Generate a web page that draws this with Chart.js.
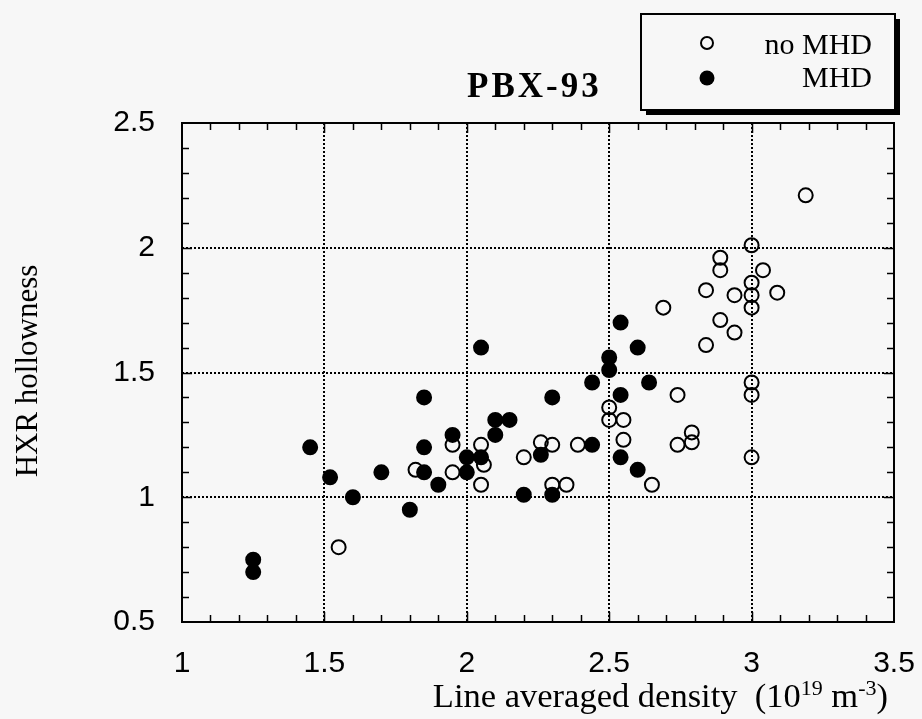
<!DOCTYPE html>
<html>
<head>
<meta charset="utf-8">
<script src="https://cdn.jsdelivr.net/npm/chart.js@4.4.0/dist/chart.umd.min.js"></script>
<style>
html, body { margin: 0; padding: 0; background: #f7f7f7; }
</style>
</head>
<body>
<canvas id="chart" width="922" height="719"></canvas>
<script>
// values
const noMhdX = [1.55, 1.82, 1.95, 1.95, 2.05, 2.06, 2.05, 2.20, 2.26, 2.30, 2.30, 2.35, 2.39, 2.50, 2.50, 2.55, 2.55, 2.65, 2.69, 2.74,
                2.74, 2.79, 2.79, 2.84, 2.84, 2.89, 2.89, 2.89, 2.94, 2.94, 3.00, 3.00, 3.00, 3.00, 3.00, 3.00, 3.00, 3.04, 3.09, 3.19];
const noMhdY = [0.80, 1.11, 1.21, 1.10, 1.21, 1.13, 1.05, 1.16, 1.22, 1.21, 1.05, 1.05, 1.21, 1.36, 1.31, 1.31, 1.23, 1.05, 1.76, 1.41,
                1.21, 1.26, 1.22, 1.83, 1.61, 1.96, 1.91, 1.71, 1.81, 1.66, 2.01, 1.86, 1.81, 1.76, 1.46, 1.41, 1.16, 1.91, 1.82, 2.21];
const mhdX = [1.25, 1.25, 1.45, 1.52, 1.60, 1.70, 1.80, 1.85, 1.85, 1.85, 1.90, 1.95, 2.00, 2.00, 2.05, 2.05, 2.10, 2.15, 2.10, 2.20,
              2.26, 2.30, 2.30, 2.44, 2.44, 2.50, 2.50, 2.54, 2.54, 2.54, 2.60, 2.60, 2.64];
const mhdY = [0.70, 0.75, 1.20, 1.08, 1.00, 1.10, 0.95, 1.40, 1.20, 1.10, 1.05, 1.25, 1.16, 1.10, 1.16, 1.60, 1.31, 1.31, 1.25, 1.01,
              1.17, 1.40, 1.01, 1.46, 1.21, 1.56, 1.51, 1.70, 1.41, 1.16, 1.60, 1.11, 1.46];

const xTicks = [1, 1.5, 2, 2.5, 3, 3.5];
const yTicks = [0.5, 1, 1.5, 2, 2.5];
const seriesLabels = ['no MHD', 'MHD'];
const chartTitle = 'PBX-93';
const yTitle = 'HXR hollowness';
const xTitle = ['Line averaged density  (10', '19', ' m', '-3', ')'];

const toPoints = (xs, ys) => xs.map((x, i) => ({x: x, y: ys[i]}));

const SERIF = '"Liberation Serif", "Times New Roman", serif';
const SANS = '"Liberation Sans", Arial, sans-serif';

const decor = {
    id: 'decor',
    beforeDraw(chart) {
        const ctx = chart.ctx;
        ctx.save();
        ctx.fillStyle = '#f7f7f7';
        ctx.fillRect(0, 0, chart.width, chart.height);
        ctx.restore();
    },
    beforeDatasetsDraw(chart) {
        const ctx = chart.ctx;
        const a = chart.chartArea;
        const xs = chart.scales.x, ys = chart.scales.y;
        ctx.save();
        ctx.strokeStyle = '#000';
        ctx.lineWidth = 2;
        ctx.setLineDash([2, 2]);
        xTicks.slice(1, -1).forEach(v => {
            const px = Math.round(xs.getPixelForValue(v));
            ctx.beginPath();
            ctx.moveTo(px, a.top);
            ctx.lineTo(px, a.bottom);
            ctx.stroke();
        });
        yTicks.slice(1, -1).forEach(v => {
            const py = Math.round(ys.getPixelForValue(v));
            ctx.beginPath();
            ctx.moveTo(a.left, py);
            ctx.lineTo(a.right, py);
            ctx.stroke();
        });
        ctx.restore();
    },
    afterDatasetsDraw(chart) {
        const ctx = chart.ctx;
        const a = chart.chartArea;
        const xs = chart.scales.x, ys = chart.scales.y;
        ctx.save();
        ctx.strokeStyle = '#000';
        ctx.lineWidth = 2;
        ctx.strokeRect(a.left, a.top, a.right - a.left, a.bottom - a.top);

        // inward ticks, minor every 0.1
        ctx.lineWidth = 1.5;
        const nx = Math.round((xs.max - xs.min) / 0.1);
        for (let i = 1; i < nx; i++) {
            const px = Math.round(xs.getPixelForValue(xs.min + i * 0.1)) + 0.5;
            const len = i % 5 === 0 ? 10 : 7;
            ctx.beginPath();
            ctx.moveTo(px, a.bottom); ctx.lineTo(px, a.bottom - len);
            ctx.moveTo(px, a.top); ctx.lineTo(px, a.top + len);
            ctx.stroke();
        }
        const ny = Math.round((ys.max - ys.min) / 0.1);
        for (let i = 1; i < ny; i++) {
            const py = Math.round(ys.getPixelForValue(ys.min + i * 0.1)) + 0.5;
            const len = i % 5 === 0 ? 10 : 7;
            ctx.beginPath();
            ctx.moveTo(a.left, py); ctx.lineTo(a.left + len, py);
            ctx.moveTo(a.right, py); ctx.lineTo(a.right - len, py);
            ctx.stroke();
        }
        ctx.restore();
    },
    afterDraw(chart) {
        const ctx = chart.ctx;
        ctx.save();
        ctx.fillStyle = '#000';

        // title
        ctx.font = 'bold 35px ' + SERIF;
        ctx.letterSpacing = '3px';
        ctx.textAlign = 'left';
        ctx.textBaseline = 'alphabetic';
        ctx.fillText(chartTitle, 467, 97);
        ctx.letterSpacing = '0px';

        // y axis title
        ctx.save();
        ctx.font = '31px ' + SERIF;
        ctx.translate(37, 371);
        ctx.rotate(-Math.PI / 2);
        ctx.textAlign = 'center';
        ctx.fillText(yTitle, 0, 0);
        ctx.restore();

        // x axis title with superscripts
        const big = '34.5px ' + SERIF, small = '22px ' + SERIF;
        const parts = xTitle.map((t, i) => ({t: t, sup: i === 1 || i === 3}));
        let total = 0;
        parts.forEach(p => { ctx.font = p.sup ? small : big; p.w = ctx.measureText(p.t).width; total += p.w; });
        let cx = 888 - total;
        ctx.textAlign = 'left';
        parts.forEach(p => {
            ctx.font = p.sup ? small : big;
            ctx.fillText(p.t, cx, p.sup ? 695 : 707);
            cx += p.w;
        });

        // legend box with drop shadow
        ctx.fillStyle = '#000';
        ctx.fillRect(646, 19, 254, 96);
        ctx.fillStyle = '#f7f7f7';
        ctx.fillRect(641, 14, 254, 96);
        ctx.strokeStyle = '#000';
        ctx.lineWidth = 2;
        ctx.strokeRect(641, 14, 254, 96);

        ctx.beginPath();
        ctx.arc(707, 43, 6, 0, Math.PI * 2);
        ctx.lineWidth = 2;
        ctx.stroke();
        ctx.beginPath();
        ctx.arc(707, 78, 7.5, 0, Math.PI * 2);
        ctx.fillStyle = '#000';
        ctx.fill();

        ctx.font = '30px ' + SERIF;
        ctx.textAlign = 'right';
        ctx.fillText(seriesLabels[0], 872, 54);
        ctx.fillText(seriesLabels[1], 872, 87);
        ctx.restore();
    }
};

new Chart(document.getElementById('chart'), {
    type: 'scatter',
    data: {
        datasets: [
            {
                label: seriesLabels[0],
                data: toPoints(noMhdX, noMhdY),
                pointStyle: 'circle',
                pointRadius: 7,
                pointBorderWidth: 2,
                backgroundColor: 'rgba(0,0,0,0)',
                borderColor: '#000',
                order: 2
            },
            {
                label: seriesLabels[1],
                data: toPoints(mhdX, mhdY),
                pointStyle: 'circle',
                pointRadius: 7,
                pointBorderWidth: 2,
                backgroundColor: '#000',
                borderColor: '#000',
                order: 1
            }
        ]
    },
    options: {
        responsive: false,
        animation: false,
        devicePixelRatio: 1,
        layout: { padding: { top: 123, right: 28, left: 0, bottom: 0 } },
        plugins: {
            legend: { display: false },
            tooltip: { enabled: false }
        },
        scales: {
            x: {
                type: 'linear',
                min: 1,
                max: 3.5,
                afterBuildTicks: s => { s.ticks = xTicks.map(v => ({value: v})); },
                afterFit: s => { s.height = 97; s.paddingLeft = 0; s.paddingRight = 0; },
                grid: { display: false, drawTicks: false },
                border: { display: false },
                ticks: {
                    autoSkip: false,
                    maxRotation: 0,
                    padding: 24,
                    color: '#000',
                    font: { family: SANS, size: 30 },
                    callback: v => String(v)
                }
            },
            y: {
                type: 'linear',
                min: 0.5,
                max: 2.5,
                afterBuildTicks: s => { s.ticks = yTicks.map(v => ({value: v})); },
                afterFit: s => { s.width = 182; s.paddingTop = 0; s.paddingBottom = 0; },
                grid: { display: false, drawTicks: false },
                border: { display: false },
                ticks: {
                    padding: 27,
                    color: '#000',
                    font: { family: SANS, size: 30 },
                    callback: v => String(v)
                }
            }
        }
    },
    plugins: [decor]
});
</script>
</body>
</html>
